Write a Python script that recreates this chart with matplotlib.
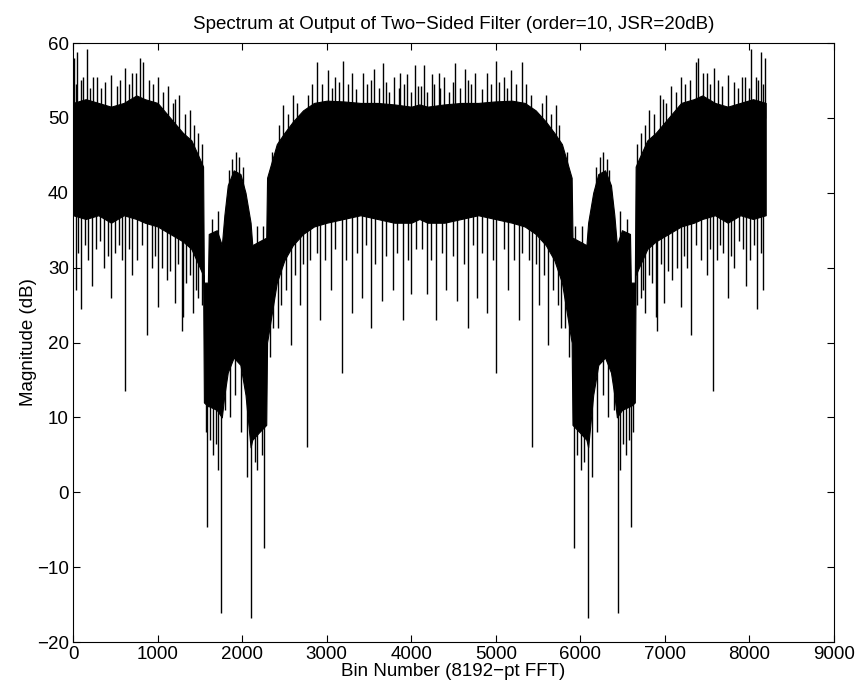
import numpy as np
import matplotlib
matplotlib.use('Agg')
import matplotlib.pyplot as plt

plt.rcParams['font.family'] = ['Liberation Sans', 'DejaVu Sans']

N_FFT = 8192

# first half of the spectrum (bins 0..4096);
# the magnitude spectrum is mirror-symmetric about bin 4096
env_bins = [0, 150, 300, 450, 600, 750, 850, 1000, 1150, 1300, 1400, 1500, 1538,
            1548, 1595, 1605, 1700, 1760, 1790, 1830, 1900, 1980, 2040, 2100,
            2120, 2200, 2285, 2295, 2410, 2500, 2600, 2720, 2850, 3000, 3200,
            3400, 3600, 3800, 4000, 4096]
env_top = [52, 52.5, 52, 51.5, 52, 53, 52.5, 52, 50, 48, 47, 44.5, 43.5,
           28, 28, 34.5, 35, 33, 37, 41, 43, 42.5, 40, 36,
           33, 33.5, 34, 42, 46.5, 48, 49.5, 51, 52, 52.3, 52.2,
           52, 52, 51.8, 51.5, 51.8]
env_bot = [37, 36.5, 37, 36, 37, 36.5, 36, 35.5, 34.5, 33.5, 32.5, 30, 29,
           12, 11.5, 11.5, 11, 10, 13, 16, 18, 17, 13, 6,
           7, 8, 9, 20, 28, 31, 33, 34.5, 35.5, 36, 36.5,
           37, 36.5, 36, 36, 36.5]

# tall upward spikes
up_bins = [10, 50, 120, 170, 280, 450, 615, 700, 795, 830, 1000, 1125, 1250,
           1385, 1480, 1930, 2480, 2600, 2880, 3015, 3100, 3190, 3300, 3433,
           3560, 3670, 3800, 3867, 3950, 4045]
up_vals = [58, 58.8, 55.5, 59.2, 55.5, 55.7, 56.6, 56, 58, 57.5, 55.5, 54.2, 53,
           51, 48, 45.5, 51.7, 53, 57.5, 56.4, 55.5, 57.6, 56, 56,
           56.5, 57.3, 55.5, 56, 55.8, 57.1]

# short hair on the top edge
hair_up_bins = [30, 90, 200, 240, 330, 380, 520, 560, 660, 740, 900, 950, 1060,
                1180, 1210, 1320, 1430, 1520, 1640, 1720, 1850, 1880, 1960, 2010,
                2170, 2250, 2350, 2440, 2540, 2650, 2780, 2830, 2950, 3060, 3150,
                3250, 3350, 3480, 3520, 3620, 3700, 3740, 3850, 3920, 4000, 4080]
hair_up_vals = [54.5, 55, 54, 55.5, 54, 54.8, 54.2, 55, 54.5, 56, 55, 54.5, 53.5,
                52, 52.5, 50.5, 49, 46.5, 36.5, 37.5, 43, 44.5, 44.8, 43.5,
                35.5, 35.5, 45.5, 49, 50.5, 52, 53, 54.5, 54.5, 54, 54.8,
                54.5, 53.8, 54.5, 55, 54, 54.8, 53.5, 54, 54.5, 53.5, 54.2]

# deep downward spikes
down_bins = [30, 100, 230, 370, 450, 620, 700, 880, 1000, 1110, 1206, 1285, 1300,
             1423, 1480, 1589, 1650, 1720, 1750, 1860, 1990, 2101, 2180, 2262,
             2330, 2420, 2578, 2680, 2763, 2921, 3050, 3185, 3300, 3420, 3520,
             3650, 3780, 3900, 4000]
down_vals = [27, 24.5, 27.5, 30, 26, 13.5, 29, 21, 24.8, 28.4, 25.3, 21.5, 23.4,
             24, 26, -4.6, 5, 3, -16.1, 10, 8, -16.8, 3, -7.4,
             18, 22, 19.7, 25, 6.1, 23, 27, 15.9, 24, 26, 22,
             25.5, 27, 23, 26.5]

# short hair on the bottom edge
hair_dn_bins = [60, 140, 180, 270, 320, 410, 500, 540, 580, 660, 760, 820, 930,
                970, 1050, 1150, 1240, 1340, 1380, 1450, 1520, 1570, 1620, 1690,
                1800, 1920, 2060, 2150, 2230, 2370, 2460, 2520, 2620, 2720, 2800,
                2880, 2980, 3100, 3230, 3360, 3460, 3570, 3700, 3830, 3960, 4060]
hair_dn_vals = [32, 33, 31, 32.5, 33.5, 31.5, 32, 33, 31, 32.5, 31, 33, 30,
                31.5, 30, 29.5, 30.5, 28, 29, 27, 25, 8, 7, 6.5,
                11, 13, 2, 4, 5, 22, 25, 27, 29, 30.5, 31,
                32, 31, 32.5, 31, 32, 33, 30.5, 31.5, 32, 31, 32.5]


def mirror(b, v):
    b = np.asarray(b, float)
    v = np.asarray(v, float)
    return np.concatenate([b, N_FFT - b[::-1]]), np.concatenate([v, v[::-1]])


eb, et = mirror(env_bins, env_top)
_, ebt = mirror(env_bins, env_bot)
ub, uv = mirror(up_bins + hair_up_bins, up_vals + hair_up_vals)
db, dv = mirror(down_bins + hair_dn_bins, down_vals + hair_dn_vals)

fig = plt.figure(figsize=(8.6, 6.94), dpi=100)
ax = fig.add_axes([0.0849, 0.0749, 0.8849, 0.8631])

ax.fill_between(eb, ebt, et, color='black', lw=0.8, edgecolor='black')
ax.vlines(ub, np.interp(ub, eb, et) - 2, uv, color='black', lw=1.0)
ax.vlines(db, dv, np.interp(db, eb, ebt) + 2, color='black', lw=1.0)

ax.set_xlim(0, 9000)
ax.set_ylim(-20, 60)
ax.set_xticks(np.arange(0, 9001, 1000))
ax.set_yticks(np.arange(-20, 61, 10))
ax.tick_params(direction='in', top=True, right=True, labelsize=13.5, length=5, pad=3)
ax.set_title('Spectrum at Output of Two\u2212Sided Filter (order=10, JSR=20dB)',
             fontsize=13.5, pad=10)
ax.set_xlabel('Bin Number (8192\u2212pt FFT)', fontsize=13.5, labelpad=0)
ax.set_ylabel('Magnitude (dB)', fontsize=13.5, labelpad=0)

fig.savefig('out.png', dpi=100)
